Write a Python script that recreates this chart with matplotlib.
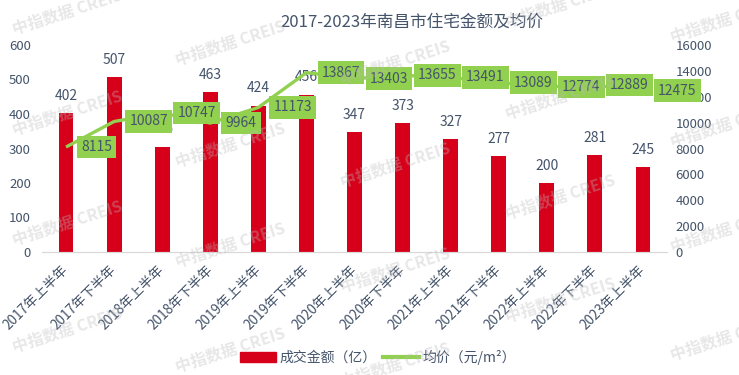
import matplotlib
matplotlib.use("Agg")
from matplotlib import pyplot as plt
from matplotlib.patches import Patch
from matplotlib.lines import Line2D
import matplotlib.transforms as mtransforms

plt.rcParams['font.family'] = ['Noto Sans CJK SC', 'DejaVu Sans']

# data
periods = ["2017年上半年", "2017年下半年", "2018年上半年", "2018年下半年",
           "2019年上半年", "2019年下半年", "2020年上半年", "2020年下半年",
           "2021年上半年", "2021年下半年", "2022年上半年", "2022年下半年",
           "2023年上半年"]
amount = [402, 507, 305, 463, 424, 456, 347, 373, 327, 277, 200, 281, 245]
price = [8115, 10087, 10747, 9964, 11173, 13867, 13403, 13655, 13491,
         13089, 12774, 12889, 12475]

red = '#D7001A'
green = '#92D050'
txt = '#44546A'

px = 1/100
fig = plt.figure(figsize=(739*px, 375*px), dpi=100)
fig.set_facecolor('white')
ax = fig.add_axes([42/739, 1-252/375, 625/739, 207/375])
ax2 = ax.twinx()

x = list(range(len(periods)))
ax.bar(x, amount, width=0.31, color=red, zorder=2)
for xi, v in zip(x, amount):
    ax.annotate(str(v), (xi, v), xytext=(0, 7.5), textcoords='offset points',
                ha='center', va='bottom', fontsize=10, color=txt)

ax2.plot(x, price, color=green, lw=2.4, zorder=3, solid_capstyle='butt')
for xi, v in zip(x, price):
    ax2.annotate(str(v), (xi, v), xytext=(11, 0), textcoords='offset points',
                 ha='left', va='center', fontsize=10, color=txt, zorder=5,
                 bbox=dict(boxstyle='square,pad=0.3', fc=green, ec='none'))

ax.set_xlim(-0.5, len(periods)-0.5)
ax.set_ylim(0, 600)
ax.set_yticks(range(0, 601, 100))
ax2.set_ylim(0, 16000)
ax2.set_yticks(range(0, 16001, 2000))

ax.set_xticks(x)
ax.set_xticklabels(periods, rotation=45, ha='right', va='center',
                   rotation_mode='anchor', fontsize=9.8, color=txt)
shift = mtransforms.ScaledTranslation(6/100, 0, fig.dpi_scale_trans)
for lab in ax.get_xticklabels():
    lab.set_transform(lab.get_transform() + shift)
ax.tick_params(axis='x', length=0, pad=11)
ax.tick_params(axis='y', length=0, labelsize=9.5, labelcolor=txt, pad=8)
ax2.tick_params(axis='y', length=0, labelsize=9.5, labelcolor=txt, pad=6)

for a in (ax, ax2):
    for s in ('top', 'left', 'right'):
        a.spines[s].set_visible(False)
    a.spines['bottom'].set_color('#D9D9D9')
ax.set_zorder(ax2.get_zorder() - 1)
ax.patch.set_visible(False)
ax2.patch.set_visible(False)

fig.text(412/739, 1-22/375, "2017-2023年南昌市住宅金额及均价", ha='center', va='center',
         fontsize=12, color=txt)

handles = [Patch(color=red), Line2D([], [], color=green, lw=3)]
fig.legend(handles, ["成交金额（亿）", "均价（元/m²）"], loc='center',
           bbox_to_anchor=(378/739, 1-357/375), ncol=2, frameon=False,
           fontsize=10, labelcolor=txt, handlelength=2.6, handletextpad=0.2,
           columnspacing=0.5)

# watermark
marks = [(67, 12), (67, 113), (67, 223), (67, 330),
         (230, 43), (230, 145), (230, 245), (230, 350),
         (395, 63), (395, 165), (395, 270), (395, 365),
         (560, 5), (560, 97), (560, 197), (560, 300),
         (725, 20), (725, 125), (725, 230), (725, 338)]
for mx, my in marks:
    fig.text(mx/739, 1-my/375, "中指数据 CREIS", ha='center', va='center',
             rotation=18, fontsize=11.5, fontweight='bold', color='#BBBBBB',
             alpha=0.35, zorder=20)

fig.savefig('out.png', dpi=100)
